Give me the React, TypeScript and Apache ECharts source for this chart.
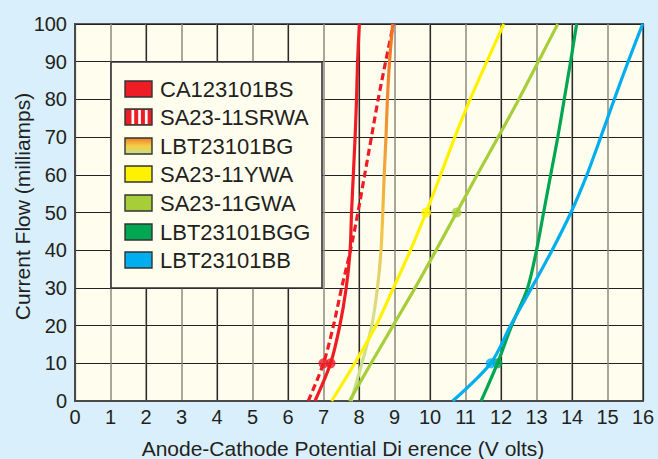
import React, { useEffect, useRef } from "react";
import * as echarts from "echarts";

// Current (mA) sample points shared by all curves
const currentMA = [0, 10, 20, 30, 40, 50, 60, 70, 80, 90, 100];
// Forward voltage (V) at each current
const ca123101BS = [6.76, 7.2, 7.46, 7.64, 7.75, 7.79, 7.84, 7.89, 7.93, 7.96, 8.01];
const sa2311SRWA = [6.57, 7.0, 7.28, 7.51, 7.76, 7.97, 8.16, 8.35, 8.54, 8.75, 8.97];
const lbt23101BG = [7.78, 8.08, 8.36, 8.52, 8.62, 8.67, 8.71, 8.76, 8.8, 8.86, 8.95];
const sa2311YWA = [7.23, 7.88, 8.48, 8.97, 9.45, 9.89, 10.3, 10.7, 11.13, 11.6, 12.08];
const sa2311GWA = [7.73, 8.34, 8.96, 9.58, 10.17, 10.75, 11.33, 11.92, 12.5, 13.05, 13.6];
const lbt23101BGG = [11.44, 11.9, 12.3, 12.75, 13.0, 13.2, 13.4, 13.6, 13.78, 13.96, 14.13];
const lbt23101BB = [10.64, 11.71, 12.27, 12.86, 13.44, 13.97, 14.42, 14.81, 15.19, 15.58, 15.99];

const legendNames = ["CA123101BS", "SA23-11SRWA", "LBT23101BG", "SA23-11YWA", "SA23-11GWA", "LBT23101BGG", "LBT23101BB"];
// index into currentMA where a dot marker sits on each curve
const markerIndex = [1, 1, -1, 5, 5, 1, 1];

const RED = "#ee1c25";
const YELLOW = "#fff200";
const LGREEN = "#a6ce39";
const DGREEN = "#00a651";
const BLUE = "#00aeef";

const FONT = "Liberation Sans, Arial, Helvetica, sans-serif";
const TXT = "#231f20";

export default function App() {
  const ref = useRef<HTMLDivElement>(null);
  useEffect(() => {
    document.body.style.margin = "0";
    if (!ref.current) return;
    const chart = echarts.init(ref.current, undefined, { renderer: "svg" });

    const volts = [ca123101BS, sa2311SRWA, lbt23101BG, sa2311YWA, sa2311GWA, lbt23101BGG, lbt23101BB];
    const pts = (v: number[]) => v.map((x, i) => [x, currentMA[i]]);

    const bgGrad = new echarts.graphic.LinearGradient(0, 0, 0, 1, [
      { offset: 0, color: "#f37021" },
      { offset: 0.3, color: "#ef9a36" },
      { offset: 0.55, color: "#f3c445" },
      { offset: 0.78, color: "#d6e08a" },
      { offset: 1, color: "#c5df84" },
    ]);
    const lineColors: any[] = [RED, RED, bgGrad, YELLOW, LGREEN, DGREEN, BLUE];
    const flatColors = [RED, RED, "#f0a030", YELLOW, LGREEN, DGREEN, BLUE];

    const lineSeries = volts.map((v, k) => ({
      name: legendNames[k],
      type: "line",
      data: pts(v),
      smooth: 0.3,
      symbol: "none",
      lineStyle: {
        width: 3.2,
        color: lineColors[k],
        type: k === 1 ? [7, 4] : "solid",
      },
      z: 3,
    }));

    const markerData = volts
      .map((v, k) =>
        markerIndex[k] >= 0
          ? { value: [v[markerIndex[k]], currentMA[markerIndex[k]]], itemStyle: { color: flatColors[k] } }
          : null
      )
      .filter(Boolean);

    // Legend drawn with graphic elements
    const lx = 111, ly = 62, lw = 211, lh = 226;
    const rowY = [89, 117, 146, 174, 203, 232, 260];
    const legendEls: any[] = [
      {
        type: "rect",
        shape: { x: lx, y: ly, width: lw, height: lh },
        style: { fill: "#fffdee", stroke: "#333", lineWidth: 1.6 },
        z: 10,
      },
    ];
    legendNames.forEach((name, k) => {
      const sy = rowY[k] - 8;
      let fill: any = flatColors[k];
      if (k === 2) {
        fill = new echarts.graphic.LinearGradient(0, 0, 0, 1, [
          { offset: 0, color: "#f07b2a" },
          { offset: 0.5, color: "#f5cf45" },
          { offset: 1, color: "#c3df86" },
        ]);
      }
      legendEls.push({
        type: "rect",
        shape: { x: 125, y: sy, width: 27, height: 16 },
        style: { fill, stroke: "#333", lineWidth: 1.4 },
        z: 11,
      });
      if (k === 1) {
        [131.5, 138.2, 144.9].forEach((sx) =>
          legendEls.push({
            type: "rect",
            shape: { x: sx, y: sy + 1, width: 2.7, height: 14 },
            style: { fill: "#ffffff" },
            z: 12,
          })
        );
      }
      legendEls.push({
        type: "text",
        x: 160,
        y: rowY[k],
        style: {
          text: name,
          font: `22px ${FONT}`,
          fill: TXT,
          verticalAlign: "middle",
          textAlign: "left",
        },
        z: 12,
      });
    });

    chart.setOption({
      animation: false,
      backgroundColor: "#d9effc",
      grid: {
        left: 75,
        right: 15,
        top: 24,
        bottom: 58,
        outerBoundsMode: "none",
        containLabel: false,
        show: true,
        backgroundColor: "#fffdee",
        borderColor: "#5a5a5a",
        borderWidth: 2,
      },
      xAxis: [
        {
          type: "value",
          min: 0,
          max: 16,
          interval: 1,
          name: "Anode-Cathode Potential Di erence (V olts)",
          nameLocation: "middle",
          nameGap: 37,
          nameTextStyle: { fontSize: 21, color: TXT, fontFamily: FONT, padding: [0, 32, 0, 0] },
          axisLine: { show: true, lineStyle: { color: "#4a4a4a", width: 2 } },
          axisTick: { show: false },
          axisLabel: { fontSize: 20, color: TXT, fontFamily: FONT, margin: 6 },
          splitLine: { show: true, lineStyle: { color: "#8c8880", width: 1.5 } },
        },
        {
          type: "value",
          min: 0,
          max: 16,
          interval: 2,
          position: "bottom",
          axisLine: { show: false },
          axisTick: { show: false },
          axisLabel: { show: false },
          splitLine: { show: true, lineStyle: { color: "#2a2a2a", width: 1.2 } },
        },
      ],
      yAxis: {
        type: "value",
        min: 0,
        max: 100,
        interval: 10,
        name: "Current Flow (milliamps)",
        nameLocation: "middle",
        nameGap: 42,
        nameMoveOverlap: false,
        nameTextStyle: { fontSize: 21, color: TXT, fontFamily: FONT, padding: [0, 0, 0, 12] },
        axisLine: { show: true, lineStyle: { color: "#4a4a4a", width: 2 } },
        axisTick: { show: false },
        axisLabel: { fontSize: 20, color: TXT, fontFamily: FONT, margin: 8 },
        splitLine: { show: true, lineStyle: { color: "#222", width: 1.2 } },
      },
      series: [
        ...lineSeries,
        {
          name: "markers",
          type: "scatter",
          data: markerData,
          symbol: "circle",
          symbolSize: 10,
          z: 4,
        },
      ],
      graphic: legendEls,
    } as any);

    return () => chart.dispose();
  }, []);
  return <div ref={ref} style={{ width: 658, height: 459 }} />;
}
